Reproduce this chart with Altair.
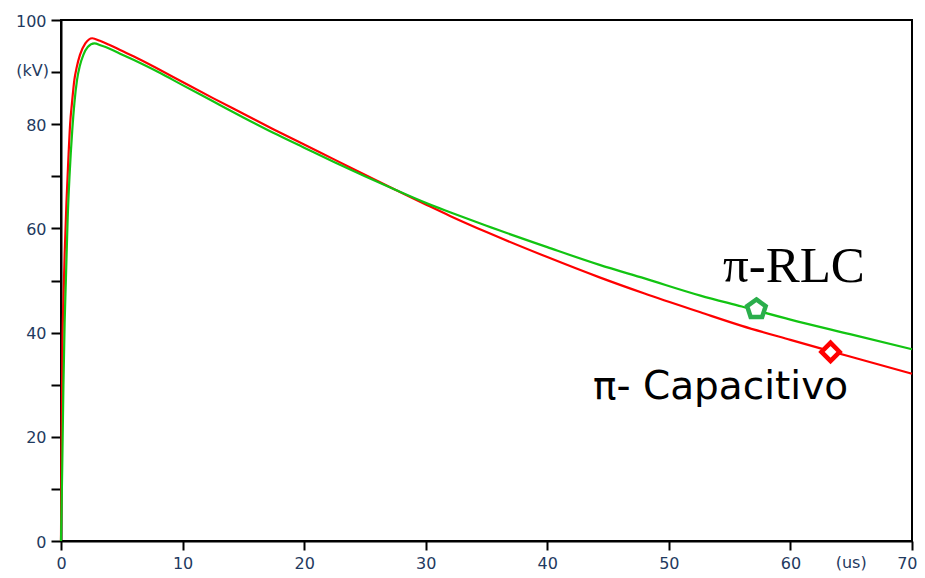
import altair as alt
import pandas as pd

# ---- data ----
cap_t = [0, 0.05, 0.12, 0.2, 0.3, 0.45, 0.6, 0.75, 0.9, 1.1, 1.3, 1.56, 2.0, 2.57, 3.2,
         4, 5, 6, 8, 10, 12.5, 15, 17.5, 20, 22.5, 25, 27.5, 30, 32, 35, 40, 44.3, 48,
         52.6, 56, 60, 63.2, 66, 70]
cap_v = [0, 20, 38, 46, 55, 65, 73, 80, 84, 88.5, 91, 93.3, 95.5, 96.5, 96.0,
         95.2, 94.1, 93.0, 90.6, 88.1, 85.0, 82.0, 79.0, 76.1, 73.2, 70.3, 67.4, 64.6, 62.4,
         59.3, 54.5, 50.6, 47.5, 43.9, 41.3, 38.6, 36.5, 34.7, 32.1]

rlc_t = [0, 0.1, 0.2, 0.3, 0.4, 0.55, 0.7, 0.93, 1.1, 1.32, 1.55, 1.84, 2.2, 2.74, 3.3,
         4, 5, 6, 8, 10, 12.5, 15, 17.5, 20, 22.5, 25, 27.5, 30, 32, 35, 40, 44.3, 48,
         52.6, 56, 60, 64.9, 70]
rlc_v = [0, 14, 30, 42, 50, 62, 70, 79, 84, 88.5, 91.2, 93.3, 94.8, 95.5, 95.1,
         94.5, 93.4, 92.3, 90.0, 87.5, 84.4, 81.3, 78.3, 75.5, 72.7, 70.0, 67.4, 64.9, 63.1,
         60.5, 56.4, 53.0, 50.4, 47.1, 45.0, 42.5, 39.7, 36.8]

series_names = ["π-Capacitivo", "π-RLC"]
series_colors = ["#FF0000", "#12C412"]

marker_t = [57.2, 63.3]
marker_v = [44.5, 36.3]

label_text = ["π-RLC", "π- Capacitivo"]
label_t = [54.45, 43.76]
label_v = [49.7, 27.2]

x_ticks = [0, 10, 20, 30, 40, 50, 60, 70]
y_ticks = [0, 10, 20, 30, 40, 50, 60, 70, 80, 90, 100]
x_unit = "(us)"
x_unit_t = 65
y_unit = "(kV)"
y_unit_v = 90

NAVY = "#1F3A60"
W, H = 851, 521

df = pd.concat([
    pd.DataFrame({"t": cap_t, "v": cap_v, "series": series_names[0]}),
    pd.DataFrame({"t": rlc_t, "v": rlc_v, "series": series_names[1]}),
])

xs = alt.Scale(domain=[0, 70], nice=False, zero=True)
ys = alt.Scale(domain=[0, 100], nice=False, zero=True)
x_axis = alt.Axis(
    values=x_ticks, title=None, tickSize=9, labelPadding=5, labelFlush=False,
    labelAlign=alt.condition("datum.value == 70", alt.value("right"), alt.value("center")),
    labelOffset=alt.condition("datum.value == 70", alt.value(5), alt.value(0)),
)
y_axis = alt.Axis(values=y_ticks, title=None, tickSize=10, labelPadding=5, labelFlush=False,
                  labelOffset=1,
                  labelExpr="datum.value % 20 == 0 ? datum.label : ''")


def X():
    return alt.X("t:Q", scale=xs, axis=x_axis)


def Y():
    return alt.Y("v:Q", scale=ys, axis=y_axis)


lines = alt.Chart(df).mark_line(strokeWidth=2.2, interpolate="monotone").encode(
    x=X(), y=Y(),
    color=alt.Color("series:N", scale=alt.Scale(domain=series_names, range=series_colors),
                    legend=None),
)

pent = "M0,-1L0.951,-0.309L0.588,0.809L-0.588,0.809L-0.951,-0.309Z"
m1 = alt.Chart(pd.DataFrame({"t": [marker_t[0]], "v": [marker_v[0]]})).mark_point(
    shape=pent, filled=True, fill="white", stroke="#2BAE4C", strokeWidth=4.5,
    size=380, opacity=1
).encode(x=X(), y=Y())

m2 = alt.Chart(pd.DataFrame({"t": [marker_t[1]], "v": [marker_v[1]]})).mark_point(
    shape="diamond", filled=True, fill="white", stroke="#FF0000", strokeWidth=4.5,
    size=330, opacity=1
).encode(x=X(), y=Y())

t1 = alt.Chart(pd.DataFrame({"t": [label_t[0]], "v": [label_v[0]], "s": [label_text[0]]})).mark_text(
    font="Liberation Serif", fontSize=51, align="left", baseline="alphabetic", color="black"
).encode(x=X(), y=Y(), text="s:N")

t2 = alt.Chart(pd.DataFrame({"t": [label_t[1]], "v": [label_v[1]], "s": [label_text[1]]})).mark_text(
    font="DejaVu Sans", fontSize=39, align="left", baseline="alphabetic", color="black"
).encode(x=X(), y=Y(), text="s:N")

ku = alt.Chart(pd.DataFrame({"v": [y_unit_v], "s": [y_unit]})).mark_text(
    font="DejaVu Sans", fontSize=16, align="right", baseline="middle", color=NAVY, dy=-1
).encode(x=alt.value(-12), y=Y(), text="s:N")

uu = alt.Chart(pd.DataFrame({"t": [x_unit_t], "s": [x_unit]})).mark_text(
    font="DejaVu Sans", fontSize=16, align="center", baseline="top", color=NAVY
).encode(x=X(), y=alt.value(H + 14), text="s:N")

chart = alt.layer(lines, m1, m2, t1, t2, ku, uu).properties(
    width=W, height=H,
    autosize=alt.AutoSizeParams(type="none"),
    padding={"left": 53, "top": 12, "right": 5, "bottom": 30},
).configure_view(
    stroke="black", strokeWidth=2
).configure_axis(
    domainColor="black", domainWidth=2, tickColor="black", tickWidth=2,
    labelFont="DejaVu Sans", labelFontSize=16, labelColor=NAVY, grid=False
)

chart.save("out.html", embed_options={"renderer": "svg", "actions": False})
